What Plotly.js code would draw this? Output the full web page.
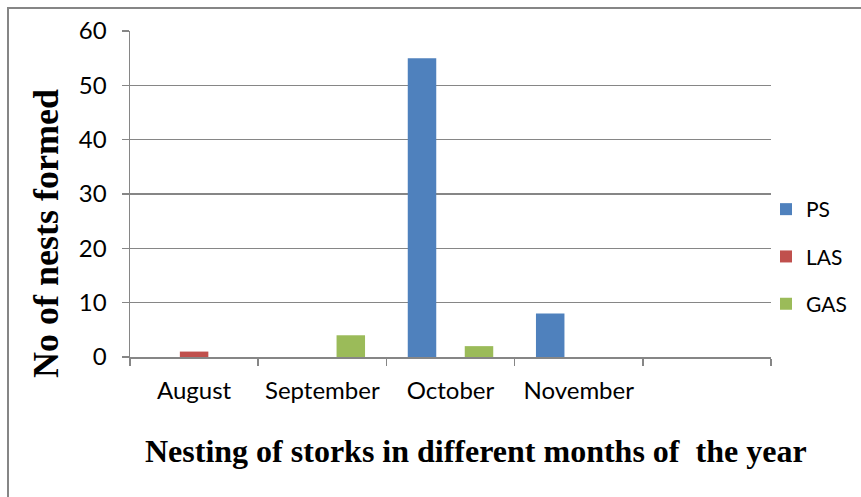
<!DOCTYPE html>
<html>
<head>
<meta charset="utf-8">
<script src="https://cdn.plot.ly/plotly-3.0.1.min.js"></script>
<style>html,body{margin:0;padding:0;background:#fff;}#chart{width:861px;height:497px;}</style>
</head>
<body>
<div id="chart"></div>
<script>
const categories = ["August", "September", "October", "November", "\u00a0"];
const seriesNames = ["PS", "LAS", "GAS"];
const psValues = [0, 0, 55, 8, null];
const lasValues = [1, 0, 0, 0, null];
const gasValues = [0, 4, 2, 0, null];
const yTicks = [0, 10, 20, 30, 40, 50, 60];
const colors = ["#4F81BD", "#C0504D", "#9BBB59"];

const L = 130, R = 771, T = 31, B = 357, W = 861, H = 497;
const px = x => (x - L) / (R - L);
const py = y => (B - y) / (B - T);

const traces = [psValues, lasValues, gasValues].map((vals, i) => ({
  type: "bar",
  name: seriesNames[i],
  legendgroup: seriesNames[i],
  x: categories,
  y: vals,
  marker: {color: colors[i]},
  hoverinfo: "x+y+name"
}));

const tickFont = {size: 24, family: "Lato, sans-serif", color: "#000"};

const layout = {
  width: W, height: H,
  margin: {l: L, r: W - R, t: T, b: H - B, autoexpand: false},
  paper_bgcolor: "#fff", plot_bgcolor: "#fff",
  barmode: "group", bargap: 0.3333, bargroupgap: 0,
  showlegend: true,
  font: {family: "Lato, 'Open Sans', sans-serif", size: 18, color: "#000"},
  xaxis: {
    type: "category",
    categoryorder: "array", categoryarray: categories,
    range: [-0.5, 4.5],
    showline: true, linecolor: "#868686", linewidth: 1.5,
    showgrid: false, zeroline: false,
    ticks: "outside", tickson: "boundaries", ticklen: 7, tickcolor: "#868686", tickwidth: 1.5,
    tickfont: tickFont,
    ticklabelstandoff: 12,
    fixedrange: true
  },
  yaxis: {
    range: [0, 60],
    tickvals: yTicks,
    showline: true, linecolor: "#868686", linewidth: 1.5,
    showgrid: true, gridcolor: "#868686", gridwidth: 1.3,
    zeroline: false,
    ticks: "outside", ticklen: 7, tickcolor: "#868686", tickwidth: 1.5,
    tickfont: tickFont,
    ticklabelstandoff: 10,
    fixedrange: true
  },
  legend: {
    x: px(766), y: py(189), xanchor: "left", yanchor: "top",
    font: {size: 21, family: "Lato, sans-serif", color: "#000"},
    tracegroupgap: 17,
    itemwidth: 30,
    bgcolor: "rgba(0,0,0,0)"
  },
  shapes: [{
    type: "rect", xref: "paper", yref: "paper",
    x0: px(8), x1: px(880), y0: py(520), y1: py(8),
    line: {color: "#868686", width: 2}
  }],
  annotations: [
    {
      text: "<b>Nesting of storks in different months of  the year</b>",
      xref: "paper", yref: "paper", x: px(476), y: py(451),
      xanchor: "center", yanchor: "middle", showarrow: false,
      font: {family: "'Liberation Serif', 'Times New Roman', serif", size: 32, color: "#000"}
    },
    {
      text: "<b>No of nests formed</b>",
      xref: "paper", yref: "paper", x: px(46), y: py(234),
      xanchor: "center", yanchor: "middle", showarrow: false, textangle: -90,
      font: {family: "'Liberation Serif', 'Times New Roman', serif", size: 36, color: "#000"}
    }
  ]
};

Plotly.newPlot("chart", traces, layout, {displayModeBar: false, staticPlot: true});
</script>
</body>
</html>
